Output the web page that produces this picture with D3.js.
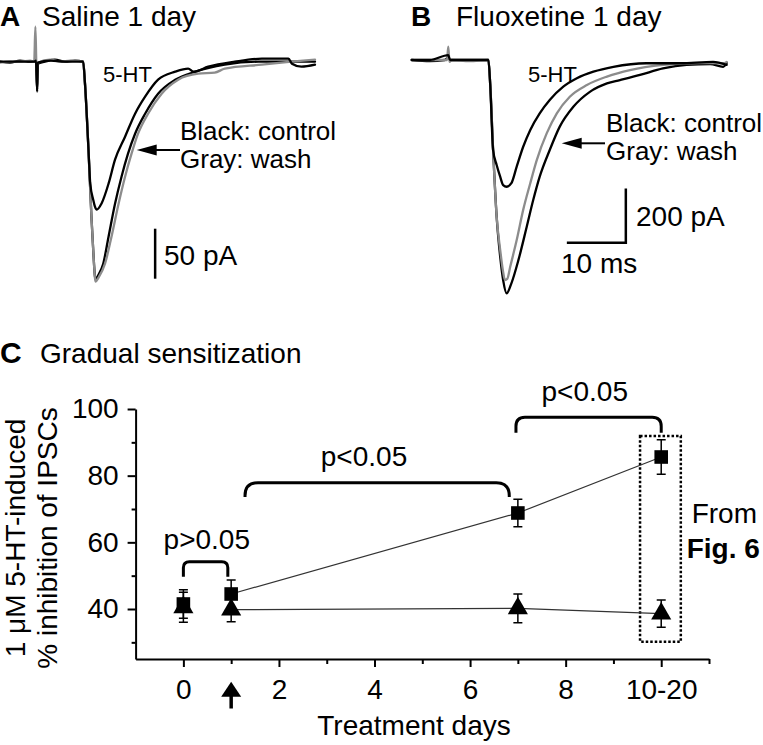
<!DOCTYPE html>
<html><head><meta charset="utf-8">
<script src="https://cdn.jsdelivr.net/npm/d3@7"></script>
<style>
body{margin:0;background:#fff}
svg{display:block}
text{font-family:"Liberation Sans",Arial,sans-serif;fill:#000}
</style>
</head><body>
<svg id="fig" width="763" height="745"></svg>
<script>
// ---------------- DATA ----------------
// Panel A (saline 1 day) traces: [time ms, current pA]
const salineControl = [[0,0],[1.7,-1],[3.4,1],[5.1,0],[5.8,0],[6.1,2],[6.3,-30],[6.4,-2],[7.6,0],[9.3,2],[11.0,0],[12.7,1],[14.1,0],[14.4,-22],[15.0,-88],[15.5,-155],[15.8,-188],[16.1,-215],[16.2,-218],[16.6,-214],[17.5,-202],[18.4,-175],[19.5,-142],[20.6,-115],[21.7,-92],[22.9,-72],[24.6,-52],[26.8,-32],[29.7,-18],[33.1,-10],[38.1,-3],[43.8,0],[48.9,0],[53.4,0]];
const salineWash = [[0,-1],[1.7,0],[3.4,0],[5.1,1],[5.8,0],[6.0,35],[6.2,-8],[6.4,-1],[8.5,2],[10.2,0],[11.9,1],[14.1,0],[14.4,-21],[15.0,-88],[15.5,-155],[15.8,-188],[16.1,-216],[16.2,-220],[16.7,-216],[17.8,-202],[18.9,-175],[20.1,-142],[21.2,-115],[22.3,-92],[23.4,-72],[25.1,-52],[27.4,-32],[30.2,-18],[33.6,-12],[36.4,-11],[38.1,-7],[44.4,-3],[49.4,0],[53.4,2]];
const salineHT = [[0,0],[2.5,0],[5.1,0],[5.8,0],[6.1,1],[6.3,-28],[6.4,-1],[8.5,1],[11.0,0],[14.1,0],[14.4,-21],[15.0,-88],[15.3,-122],[15.8,-138],[16.1,-145],[16.4,-148],[17.2,-142],[18.4,-122],[19.5,-98],[21.2,-75],[22.9,-52],[24.6,-35],[26.8,-18],[29.7,-10],[31.9,-7],[32.8,-10],[35.3,-5],[39.8,0],[44.4,3],[48.9,3],[49.5,-2],[51.1,-5],[53.4,-3]];
// Panel B (fluoxetine 1 day) traces: [time ms, current pA]
const fluoxControl = [[0,0],[3.1,-4],[5.6,0],[6.2,10],[6.5,0],[9.8,0],[13.0,0],[13.3,-86],[13.8,-331],[14.4,-576],[15.0,-723],[15.5,-809],[16.1,-858],[16.9,-821],[18.1,-735],[19.5,-613],[20.6,-515],[21.7,-429],[23.4,-331],[25.1,-245],[27.4,-172],[30.2,-117],[33.1,-86],[35.3,-74],[38.7,-55],[42.6,-31],[46.6,-18],[50.6,-15],[52.8,-25],[53.4,-11]];
const fluoxWash = [[0,0],[3.1,0],[6.0,0],[6.2,49],[6.4,-7],[6.8,0],[9.8,-4],[13.0,0],[13.3,-86],[13.8,-331],[14.4,-576],[15.0,-698],[15.5,-779],[15.8,-809],[16.2,-805],[16.7,-760],[17.8,-662],[18.9,-551],[20.1,-453],[21.2,-368],[22.9,-269],[24.6,-196],[26.8,-135],[29.7,-92],[33.1,-61],[37.0,-37],[42.6,-18],[48.9,-11],[52.8,-12],[53.4,-7]];
const fluoxHT = [[0,0],[3.1,0],[6.2,18],[6.5,0],[9.8,0],[13.0,0],[13.3,-86],[13.8,-331],[14.4,-386],[15.0,-429],[15.5,-460],[16.1,-466],[16.9,-453],[17.8,-392],[18.9,-319],[20.1,-257],[21.7,-196],[23.4,-147],[25.7,-98],[28.0,-67],[30.8,-43],[34.2,-25],[39.8,-12],[45.5,-12],[51.1,-7],[53.4,-18]];
// Scale bars
const scaleBarA = {ms: 26.3, pA: [-167, -217], label: "50 pA"};
const scaleBarB = {ms: [26.3, 36.3], pA: [-472, -672], labelV: "200 pA", labelH: "10 ms"};

// Panel C
const days = [0, 1, 7, 10];
const fluoxMean = [41.5, 44.5, 68.8, 85.6];
const fluoxErr  = [4.3, 4.2, 4.1, 5.2];
const salineMean = [40.5, 39.8, 40.2, 38.6];
const salineErr  = [4.5, 3.6, 4.3, 4.1];
const xTickValues = [0,1,2,3,4,5,6,7,8,9,10,11];
const xTickLabels = {0:"0", 2:"2", 4:"4", 6:"6", 8:"8", 10:"10-20"};
const yTickValues = [30,40,50,60,70,80,90,100];
const yTickLabels = {40:"40", 60:"60", 80:"80", 100:"100"};
const brackets = [
  {x0:0, x1:0.93, top:54.2, end:49.7, r:6, label:"p>0.05", lx:0.49, ly:58.0},
  {x0:1.29, x1:6.82, top:77.9, end:73.6, r:13, label:"p<0.05", lx:3.78, ly:82.9},
  {x0:6.96, x1:10.0, top:97.5, end:92.9, r:9, label:"p<0.05", lx:8.40, ly:102.4}
];
const dottedBox = {x0:9.557, x1:10.41, y0:30.2, y1:91.9};

// ---------------- DRAW ----------------
const svg = d3.select("#fig");
svg.append("rect").attr("width",763).attr("height",745).attr("fill","#fff");

function label(x, y, t, size, opts={}) {
  const el = svg.append("text").attr("x", x).attr("y", y).attr("font-size", size).text(t);
  if (opts.bold) el.attr("font-weight", "bold");
  if (opts.anchor) el.attr("text-anchor", opts.anchor);
  return el;
}
function arrowLeft(x1, x2, y) {
  svg.append("line").attr("x1", x1).attr("x2", x2 + 12).attr("y1", y).attr("y2", y)
    .attr("stroke", "#000").attr("stroke-width", 2);
  svg.append("path").attr("d", `M${x2},${y} L${x2+20},${y-5.5} L${x2+20},${y+5.5} Z`).attr("fill", "#000");
}

// Panel titles
label(0, 26, "A", 28, {bold:true});
label(42, 26, "Saline 1 day", 28);
label(411, 26, "B", 28, {bold:true});
label(456, 26, "Fluoxetine 1 day", 28);
label(0, 363, "C", 30, {bold:true});
label(40, 363, "Gradual sensitization", 28);

// Panel A/B scales
const xA = d3.scaleLinear([0, 53.4], [0, 315]);
const yA = d3.scaleLinear([0, -250], [61.7, 311.7]);
const xB = d3.scaleLinear([0, 53.4], [411.7, 726.7]);
const yB = d3.scaleLinear([0, -1000], [60, 332]);

function drawTrace(data, xs, ys, color) {
  const line = d3.line().x(d => xs(d[0])).y(d => ys(d[1])).curve(d3.curveMonotoneX);
  svg.append("path").datum(data).attr("d", line)
    .attr("fill", "none").attr("stroke", color).attr("stroke-width", 2.3)
    .attr("stroke-linejoin", "round").attr("stroke-linecap", "round");
}
drawTrace(salineControl, xA, yA, "#000");
drawTrace(salineWash, xA, yA, "#8c8c8c");
drawTrace(salineHT, xA, yA, "#000");
drawTrace(fluoxControl, xB, yB, "#000");
drawTrace(fluoxWash, xB, yB, "#8c8c8c");
drawTrace(fluoxHT, xB, yB, "#000");

// Panel A annotations
label(103, 81.7, "5-HT", 22);
label(180, 140, "Black: control", 26);
label(180, 168, "Gray: wash", 26);
arrowLeft(180, 136.7, 150);
svg.append("line").attr("x1", xA(scaleBarA.ms)).attr("x2", xA(scaleBarA.ms))
  .attr("y1", yA(scaleBarA.pA[0])).attr("y2", yA(scaleBarA.pA[1]))
  .attr("stroke", "#000").attr("stroke-width", 2.5);
label(164, 265, scaleBarA.label, 28);

// Panel B annotations
label(528, 82.3, "5-HT", 22);
label(606, 131.7, "Black: control", 26);
label(606, 160, "Gray: wash", 26);
arrowLeft(605, 561.7, 143.3);
svg.append("path")
  .attr("d", `M${xB(scaleBarB.ms[1])},${yB(scaleBarB.pA[0])} V${yB(scaleBarB.pA[1])} H${xB(scaleBarB.ms[0])}`)
  .attr("fill", "none").attr("stroke", "#000").attr("stroke-width", 2.5);
label(636, 226, scaleBarB.labelV, 28);
label(561, 273, scaleBarB.labelH, 28);

// Panel C
const xC = d3.scaleLinear([-1, 11], [135.6, 709]);
const yC = d3.scaleLinear([25, 100], [659, 409]);

const yAxis = svg.append("g").attr("transform", "translate(135.6,0)")
  .call(d3.axisLeft(yC).tickValues(yTickValues).tickSize(8).tickSizeOuter(0).tickPadding(9)
    .tickFormat(d => yTickLabels[d] || ""));
yAxis.selectAll(".tick line").attr("x2", d => yTickLabels[d] ? -8 : -4);
const xAxis = svg.append("g").attr("transform", "translate(0,659)")
  .call(d3.axisBottom(xC).tickValues(xTickValues).tickSize(8).tickSizeOuter(0).tickPadding(12)
    .tickFormat(d => xTickLabels[d] || ""));
xAxis.selectAll(".tick line").attr("y2", d => d % 2 === 0 ? 8 : 5);
[yAxis, xAxis].forEach(g => {
  g.selectAll("path.domain,.tick line").attr("stroke", "#000").attr("stroke-width", 2);
  g.selectAll("text").attr("font-size", 28).attr("font-family", '"Liberation Sans",Arial,sans-serif').attr("fill", "#000");
});

// up arrow at day 1
{
  const ax = xC(1);
  svg.append("path").attr("d", `M${ax},681.7 L${ax+10},696.7 L${ax-10},696.7 Z`).attr("fill", "#000");
  svg.append("line").attr("x1", ax).attr("x2", ax).attr("y1", 694).attr("y2", 708.5)
    .attr("stroke", "#000").attr("stroke-width", 3.5);
}

// axis titles
label(414, 735, "Treatment days", 28, {anchor:"middle"});
svg.append("text").attr("transform", "translate(25,538) rotate(-90)").attr("text-anchor", "middle")
  .attr("font-size", 28).text("1 μM 5-HT-induced");
svg.append("text").attr("transform", "translate(57,538) rotate(-90)").attr("text-anchor", "middle")
  .attr("font-size", 28).text("% inhibition of IPSCs");

// dotted box
svg.append("rect").attr("x", xC(dottedBox.x0)).attr("y", yC(dottedBox.y1))
  .attr("width", xC(dottedBox.x1) - xC(dottedBox.x0)).attr("height", yC(dottedBox.y0) - yC(dottedBox.y1))
  .attr("fill", "none").attr("stroke", "#000").attr("stroke-width", 2.5).attr("stroke-dasharray", "2.5 2");
label(691.7, 523, "From", 28);
label(686.7, 558, "Fig. 6", 28, {bold:true});

// brackets
brackets.forEach(b => {
  const x0 = xC(b.x0), x1 = xC(b.x1), yt = yC(b.top), ye = yC(b.end), r = b.r;
  svg.append("path")
    .attr("d", `M${x0},${ye} L${x0},${Math.min(ye, yt + r)} Q${x0},${yt} ${x0 + r},${yt} L${x1 - r},${yt} Q${x1},${yt} ${x1},${Math.min(ye, yt + r)} L${x1},${ye}`)
    .attr("fill", "none").attr("stroke", "#000").attr("stroke-width", 3);
  label(xC(b.lx), yC(b.ly), b.label, 28, {anchor:"middle"});
});

// series
const connect = [1, 2, 3];
svg.append("path").datum(connect).attr("d", d3.line().x(i => xC(days[i])).y(i => yC(fluoxMean[i])))
  .attr("fill", "none").attr("stroke", "#333").attr("stroke-width", 1.2);
svg.append("path").datum(connect).attr("d", d3.line().x(i => xC(days[i])).y(i => yC(salineMean[i])))
  .attr("fill", "none").attr("stroke", "#333").attr("stroke-width", 1.2);

function errorBars(means, errs) {
  days.forEach((d, i) => {
    const cx = xC(d), top = yC(means[i] + errs[i]), bot = yC(means[i] - errs[i]);
    svg.append("path").attr("d", `M${cx},${top} V${bot} M${cx-4.5},${top} H${cx+4.5} M${cx-4.5},${bot} H${cx+4.5}`)
      .attr("stroke", "#000").attr("stroke-width", 1.5).attr("fill", "none");
  });
}
errorBars(salineMean, salineErr);
errorBars(fluoxMean, fluoxErr);

svg.selectAll(".tri").data(days).enter().append("path")
  .attr("transform", (d, i) => `translate(${xC(d)},${yC(salineMean[i])})`)
  .attr("d", d3.symbol(d3.symbolTriangle, 175)).attr("fill", "#000");
svg.selectAll(".sq").data(days).enter().append("path")
  .attr("transform", (d, i) => `translate(${xC(d)},${yC(fluoxMean[i])})`)
  .attr("d", d3.symbol(d3.symbolSquare, 185)).attr("fill", "#000");
</script>
</body></html>
